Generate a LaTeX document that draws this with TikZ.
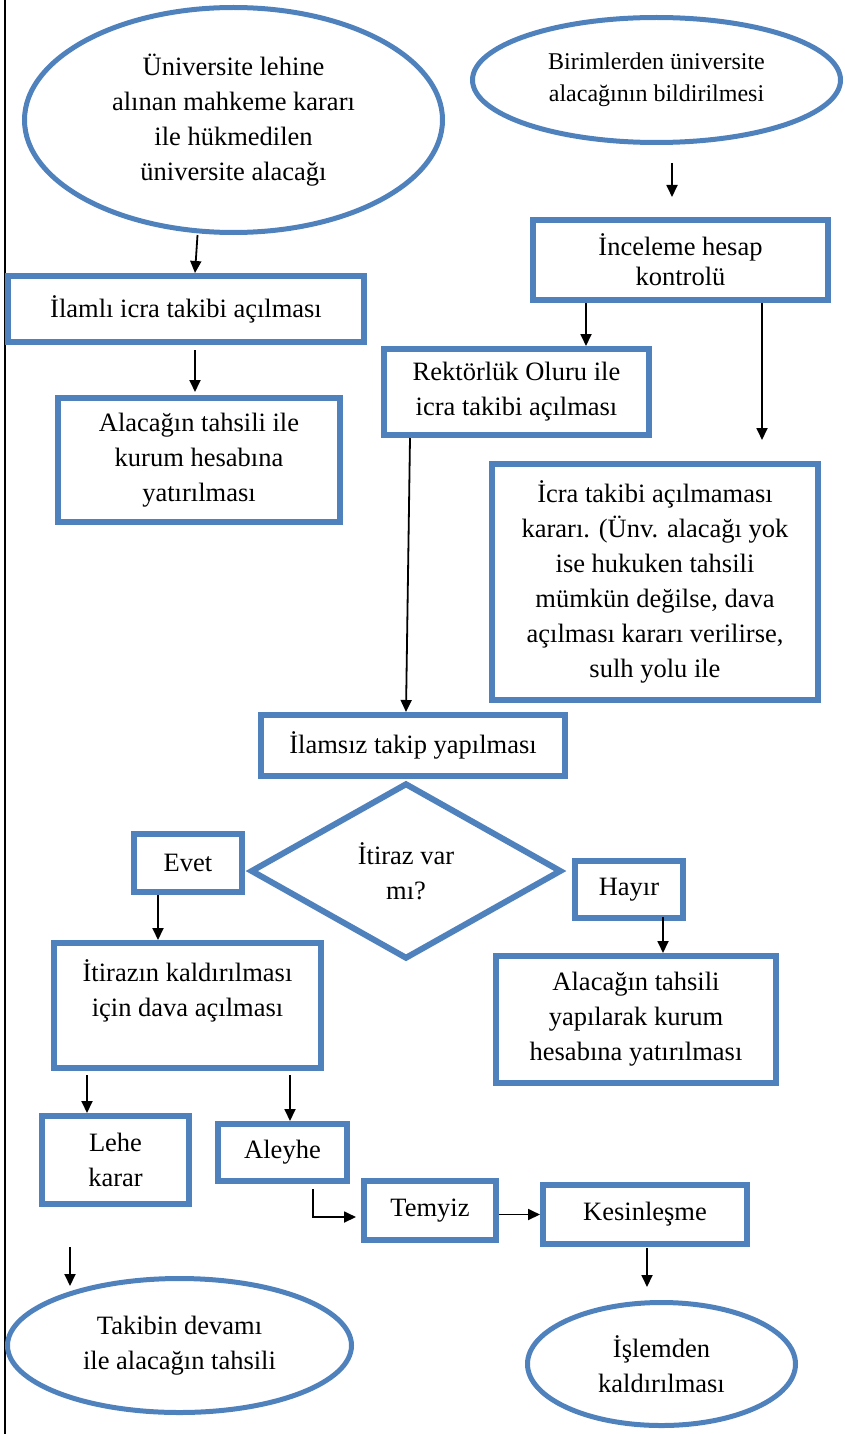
\documentclass[tikz,border=0pt]{standalone}
\usepackage{fontspec}
\setmainfont{Liberation Serif}
\usetikzlibrary{shapes.geometric,arrows.meta}
\definecolor{boxblue}{RGB}{79,129,189}
\begin{document}
\begin{tikzpicture}[x=1pt,y=-1pt,
	every node/.style={font=\fontsize{26.5}{35}\selectfont, align=center, inner sep=0pt},
	box/.style={draw=boxblue, line width=6pt, rectangle},
	oval/.style={draw=boxblue, line width=5pt, ellipse},
	arr/.style={-{Triangle[length=12pt,width=11pt]}, line width=1.8pt}]
		\useasboundingbox (0,0) rectangle (844,1434);
		
		% Left border
		\draw[line width=2pt] (5,0) -- (5,1434);
		
		% Ovals
		\node[oval, minimum width=418, minimum height=225] (uni) at (233.5,120) {Üniversite lehine\\ alınan mahkeme kararı\\ ile hükmedilen\\ üniversite alacağı};
		\node[oval, minimum width=368, minimum height=125, font=\fontsize{24}{32}\selectfont] (birim) at (656.5,80) {Birimlerden üniversite\\ alacağının bildirilmesi};
		\node[oval, minimum width=344, minimum height=134] (takip) at (179.5,1345.5) {Takibin devamı\\ ile alacağın tahsili};
		\node[oval, minimum width=268, minimum height=123] (islem) at (661.5,1364) {İşlemden\\ kaldırılması};
		
		% Boxes
		\node[box, minimum width=356, minimum height=66] (ilamli) at (186,309) {İlamlı icra takibi açılması};
		\node[box, minimum width=282, minimum height=124] (tahsil) at (199,460) {Alacağın tahsili ile\\ kurum hesabına\\ yatırılması};
		\node[box, minimum width=295, minimum height=80, font=\fontsize{26.5}{30}\selectfont] (incele) at (680.5,260) {İnceleme hesap\\ kontrolü};
		\node[box, minimum width=265, minimum height=86] (rektor) at (516.5,392) {Rektörlük Oluru ile\\ icra takibi açılması};
		\node[box, minimum width=326, minimum height=236] (icra) at (655,582) {İcra takibi açılmaması\\ kararı. (Ünv. alacağı yok\\ ise hukuken tahsili\\ mümkün değilse, dava\\ açılması kararı verilirse,\\ sulh yolu ile};
		\node[box, minimum width=304, minimum height=61] (ilamsiz) at (413,745.5) {İlamsız takip yapılması};
		\node[box, diamond, minimum width=311, minimum height=176] (itiraz) at (406,871) {İtiraz var\\ mı?};
		\node[box, minimum width=108, minimum height=58] (evet) at (188,863) {Evet};
		\node[box, minimum width=108, minimum height=57] (hayir) at (629,889.5) {Hayır};
		\node[box, minimum width=267, minimum height=125] (dava) at (187.5,1005.5) {İtirazın kaldırılması\\ için dava açılması\\ \mbox{}};
		\node[box, minimum width=280, minimum height=127] (yatir) at (636,1019.5) {Alacağın tahsili\\ yapılarak kurum\\ hesabına yatırılması};
		\node[box, minimum width=147, minimum height=88] (lehe) at (115.5,1160) {Lehe\\ karar};
		\node[box, minimum width=129, minimum height=57] (aleyhe) at (282.5,1152.5) {Aleyhe};
		\node[box, minimum width=132, minimum height=59] (temyiz) at (430,1210.5) {Temyiz};
		\node[box, minimum width=204, minimum height=59] (kesin) at (645,1214.5) {Kesinleşme};
		
		% Arrows
		\draw[arr] ([xshift=-36]uni.south) -- ([xshift=9]ilamli.north);
		\draw[arr, shorten <=5pt, shorten >=3pt] ([xshift=9]ilamli.south) -- ([xshift=-4]tahsil.north);
		\draw[arr, shorten <=18pt, shorten >=20pt] ([xshift=15.5]birim.south) -- ([xshift=-8.5]incele.north);
		\draw[arr] ([xshift=-94.5]incele.south) -- ([xshift=69.5]rektor.north);
		\draw[arr, shorten >=21pt] ([xshift=81.5]incele.south) -- ([xshift=107]icra.north);
		\draw[arr] ([xshift=-106.5]rektor.south) -- ([xshift=-7]ilamsiz.north);
		\draw[arr] ([xshift=-30]evet.south) -- ([xshift=-29.5]dava.north);
		\draw[arr, shorten <=-4pt] ([xshift=34]hayir.south) -- ([xshift=27]yatir.north);
		\draw[arr, shorten <=4pt] ([xshift=-100.5]dava.south) -- ([xshift=-28.5]lehe.north);
		\draw[arr, shorten <=4pt] ([xshift=102.5]dava.south) -- ([xshift=7.5]aleyhe.north);
		\draw[arr, shorten <=5pt, shorten >=5pt] ([xshift=30.5]aleyhe.south) |- ([yshift=-6.5]temyiz.west);
		\draw[arr] (temyiz.east |- kesin.west) -- (kesin.west);
		\draw[arr, shorten <=1pt, shorten >=13pt] ([xshift=2]kesin.south) -- ([xshift=-14.5]islem.north);
		\draw[arr, shorten <=40pt, shorten >=-10pt] ([xshift=-45.5]lehe.south) -- ([xshift=-45.5]lehe.south |- takip.north);
	\end{tikzpicture}
\end{document}
